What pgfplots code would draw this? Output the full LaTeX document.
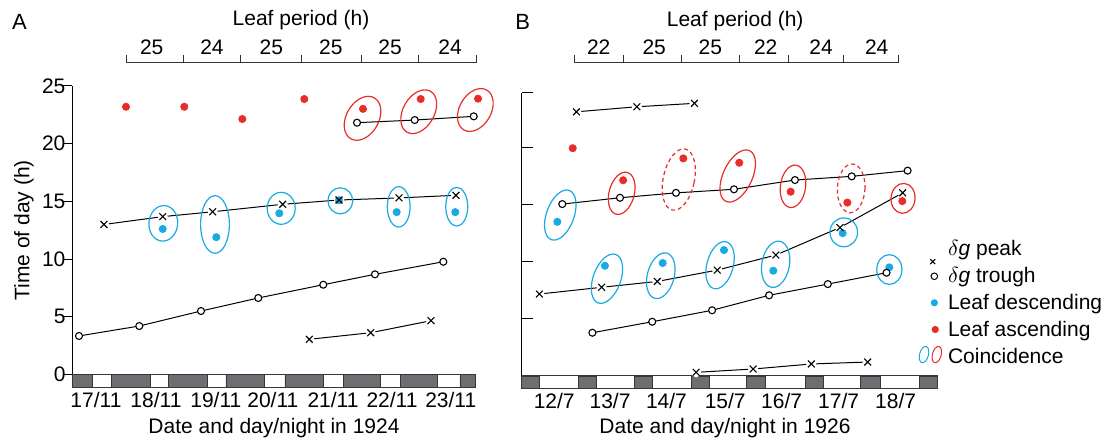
\documentclass[border=0pt]{standalone}
\usepackage{fontspec}
\setmainfont{Liberation Sans}
\usepackage{pgfplots}
\pgfplotsset{compat=1.18}

\definecolor{cblue}{RGB}{25,170,225}
\definecolor{cred}{RGB}{232,45,40}
\definecolor{night}{RGB}{110,110,114}
\definecolor{nightedge}{RGB}{55,55,58}

\pgfdeclareplotmark{ell}{%
  \pgfscope
  \pgftransformrotate{\erot}%
  \pgfpathellipse{\pgfpointorigin}{\pgfqpoint{\erx pt}{0pt}}{\pgfqpoint{0pt}{\ery pt}}%
  \pgfusepathqstroke
  \endpgfscope}

\newcommand{\lgpeak}{\tikz[baseline=3pt]{\path (0,0) (15pt,0);
  \draw[black, line width=0.5pt] (6.1pt,-1.25pt) -- (8.6pt,1.25pt) (6.1pt,1.25pt) -- (8.6pt,-1.25pt);}}
\newcommand{\lgtrough}{\tikz[baseline=3.2pt]{\path (0,0) (15pt,0);
  \draw[black, fill=white, line width=0.5pt] (8.15pt,0) circle (1.65pt);}}
\newcommand{\lgdesc}{\tikz[baseline=3pt]{\path (0,0) (15pt,0);
  \fill[cblue] (8.15pt,0) circle (1.8pt);}}
\newcommand{\lgasc}{\tikz[baseline=2.9pt]{\path (0,0) (15pt,0);
  \fill[cred] (8.6pt,0) circle (1.8pt);}}
\newcommand{\lgcoin}{\tikz[baseline=2pt]{\path (0,0) (15pt,0);
  \draw[cblue, line width=0.5pt, rotate around={-15:(3pt,0)}] (3pt,0) ellipse [x radius=2.2pt, y radius=4.2pt];
  \draw[cred, line width=0.5pt, rotate around={-15:(9.4pt,0)}] (9.4pt,0) ellipse [x radius=2.2pt, y radius=4.2pt];}}

\pgfplotsset{
  ellplot/.style={only marks, scatter, mark=ell, line width=0.6pt, forget plot,
    scatter/@pre marker code/.code={}, scatter/@post marker code/.code={},
    visualization depends on={\thisrow{rx}\as\erx},
    visualization depends on={\thisrow{ry}\as\ery},
    visualization depends on={\thisrow{rot}\as\erot}},
  dline/.style={black, line width=0.5pt, forget plot},
  gapdisc/.style={only marks, mark=*, mark size=2.3pt, white, forget plot},
  dotb/.style={only marks, mark=*, mark size=1.8pt, cblue, forget plot},
  dotr/.style={only marks, mark=*, mark size=1.8pt, cred, forget plot},
  ocirc/.style={only marks, mark=*, mark size=1.75pt, mark options={fill=white, draw=black}, line width=0.55pt, forget plot},
  xmk/.style={only marks, mark=x, mark size=2.4pt, black, line width=0.55pt, forget plot},
  nightfill/.style={fill=night, draw=nightedge, line width=0.4pt, forget plot},
  baredge/.style={nightedge, line width=0.5pt, forget plot},
  mainax/.style={anchor=south west, scale only axis, clip=false, axis lines=left,
    axis line style={-, black, line width=0.5pt}, tick style={black, line width=0.5pt},
    tick align=inside, minor tick length=2.8pt, xtick=\empty},
  topax/.style={anchor=north west, scale only axis, height=5pt, ymin=0, ymax=1, clip=false,
    axis x line=top, axis y line=none, axis line style={-, black!80, line width=0.5pt},
    tick style={black!80, line width=0.5pt}, tick align=outside, major tick length=0pt,
    minor tick length=3.8pt, ytick=\empty, xticklabel style={anchor=base, yshift=3.85pt}},
}

\begin{document}
\begin{tikzpicture}[font=\fontsize{10.5}{12.6}\selectfont]
\useasboundingbox (0,0) rectangle (554pt,219pt);

\node[anchor=base west, inner sep=0pt, font=\fontsize{11}{13}\selectfont] at (5.85pt,204pt) {A};
\node[anchor=base west, inner sep=0pt, font=\fontsize{11}{13}\selectfont] at (257.5pt,204pt) {B};

% ---------------- Panel A ----------------
\begin{axis}[mainax, at={(36.25pt,31.75pt)}, width=201.5pt, height=144.25pt,
  xmin=0, xmax=7, ymin=0, ymax=25,
  major tick length=4.6pt,
  ytick={0,5,10,15,20,25}, yticklabels={0,5,10,15,20,25}, ytick style={xshift=-4.6pt},
  minor xtick={1,2,3,4,5,6},
  extra x ticks={0.408,1.45,2.49,3.48,4.525,5.55,6.57},
  extra x tick labels={17/11,18/11,19/11,20/11,21/11,22/11,23/11},
  extra x tick style={major tick length=0pt, tick style={draw=none}, tick label style={anchor=base, yshift=-16.6pt}},
  xlabel={Date and day/night in 1924},
  xlabel style={at={(axis description cs:0.5,-0.2038)}, anchor=base},
  ylabel={Time of day (h)},
  ylabel style={at={(axis description cs:-0.1067,0.5)}, anchor=base}]
% lines
\addplot[dline] coordinates {(0.547,13.0) (1.567,13.68) (2.435,14.1) (3.651,14.75) (4.629,15.12) (5.671,15.3) (6.661,15.53)};
\addplot[dline] coordinates {(4.113,3.05) (5.18,3.62) (6.227,4.66)};
\addplot[dline] coordinates {(4.942,21.82) (5.944,22.05) (6.969,22.37)};
\addplot[dline] coordinates {(0.113,3.34) (1.16,4.2) (2.232,5.5) (3.227,6.63) (4.356,7.78) (5.254,8.68) (6.441,9.77)};
% gaps around peaks
\addplot[gapdisc] coordinates {(0.547,13.0) (1.567,13.68) (2.435,14.1) (3.651,14.75) (4.629,15.12) (5.671,15.3) (6.661,15.53) (4.113,3.05) (5.18,3.62) (6.227,4.66)};
% day/night bar (night blocks)
\addplot[nightfill] coordinates {(0,0) (0.344,0) (0.344,-1.12) (0,-1.12) (0,0)};
\addplot[nightfill] coordinates {(0.669,0) (1.346,0) (1.346,-1.12) (0.669,-1.12) (0.669,0)};
\addplot[nightfill] coordinates {(1.664,0) (2.348,0) (2.348,-1.12) (1.664,-1.12) (1.664,0)};
\addplot[nightfill] coordinates {(2.666,0) (3.34,0) (3.34,-1.12) (2.666,-1.12) (2.666,0)};
\addplot[nightfill] coordinates {(3.69,0) (4.35,0) (4.35,-1.12) (3.69,-1.12) (3.69,0)};
\addplot[nightfill] coordinates {(4.70,0) (5.34,0) (5.34,-1.12) (4.70,-1.12) (4.70,0)};
\addplot[nightfill] coordinates {(5.69,0) (6.33,0) (6.33,-1.12) (5.69,-1.12) (5.69,0)};
\addplot[nightfill] coordinates {(6.73,0) (7,0) (7,-1.12) (6.73,-1.12) (6.73,0)};
\addplot[baredge] coordinates {(0,0) (7,0) (7,-1.12) (0,-1.12) (0,0)};
% coincidence ellipses
\addplot[ellplot, cblue] table[row sep=\\] {x y rx ry rot\\
1.577 13.1 7.2 8.9 -5\\ 2.475 13.0 7.2 14.4 0\\ 3.625 14.4 7.0 8.0 0\\
4.652 15.05 6.2 6.5 0\\ 5.666 14.53 5.7 10.1 0\\ 6.674 14.54 5.5 9.7 0\\};
\addplot[ellplot, cred] table[row sep=\\] {x y rx ry rot\\
5.038 22.2 8.1 11.8 -30\\ 6.014 22.77 7.8 11.8 -30\\ 6.997 22.92 7.9 11.5 -30\\};
% leaf dots
\addplot[dotb] coordinates {(1.567,12.61) (2.498,11.9) (3.592,13.97) (4.629,15.1) (5.631,14.07) (6.649,14.07)};
\addplot[dotr] coordinates {(0.929,23.2) (1.942,23.2) (2.95,22.14) (4.026,23.87) (5.046,23.02) (6.048,23.87) (7.044,23.9)};
% troughs
\addplot[ocirc] coordinates {(4.942,21.82) (5.944,22.05) (6.969,22.37)};
\addplot[ocirc] coordinates {(0.113,3.34) (1.16,4.2) (2.232,5.5) (3.227,6.63) (4.356,7.78) (5.254,8.68) (6.441,9.77)};
% peaks
\addplot[xmk] coordinates {(0.547,13.0) (1.567,13.68) (2.435,14.1) (3.651,14.75) (4.629,15.12) (5.671,15.3) (6.661,15.53)};
\addplot[xmk] coordinates {(4.113,3.05) (5.18,3.62) (6.227,4.66)};
\end{axis}

\begin{axis}[topax, at={(63.25pt,187.65pt)}, width=174.85pt, xmin=126.5, xmax=476.2,
  xtick={151.7,212,271.3,330.8,390,450}, xticklabels={25,24,25,25,25,24},
  minor xtick={126.7,183,240.7,301.7,361,418.3,476},
  xlabel={Leaf period (h)}, xlabel style={at={(axis description cs:0.499,4.67)}, anchor=base}]
\addplot[draw=none, forget plot] coordinates {(300,0.5)};
\end{axis}

% ---------------- Panel B ----------------
\begin{axis}[mainax, at={(260.85pt,31pt)}, width=207.65pt, height=141.65pt,
  xmin=-0.04, xmax=7.246, ymin=0, ymax=24.75,
  major tick length=5.6pt,
  ytick={5,10,15,20,24.75}, yticklabels={,,,,},
  minor xtick={1,2,3,4,5,6,7},
  extra x ticks={0.53,1.51,2.5,3.53,4.52,5.52,6.52},
  extra x tick labels={12/7,13/7,14/7,15/7,16/7,17/7,18/7},
  extra x tick style={major tick length=0pt, tick style={draw=none}, tick label style={anchor=base, yshift=-16.15pt}},
  xlabel={Date and day/night in 1926},
  xlabel style={at={(axis description cs:0.4895,-0.2023)}, anchor=base},
  legend style={at={(axis description cs:0.9543,0.4776)}, anchor=north west, draw=none, fill=none,
    inner sep=0pt, outer sep=0pt, row sep=3.45pt, column sep=0pt,
    nodes={inner sep=0pt, text height=7.5pt, text depth=2.5pt, anchor=west}},
  legend cell align=left]
% lines
\addplot[dline] coordinates {(0.92,23.08) (1.98,23.52) (2.99,23.82)};
\addplot[dline] coordinates {(0.27,7.16) (1.363,7.75) (2.339,8.26) (3.39,9.25) (4.42,10.57) (5.544,12.97) (6.643,16.0)};
\addplot[dline] coordinates {(3.02,0.32) (4.02,0.61) (5.04,1.05) (6.03,1.22)};
\addplot[dline] coordinates {(0.672,15.02) (1.684,15.57) (2.667,16.0) (3.684,16.31) (4.754,17.12) (5.749,17.44) (6.73,17.94)};
\addplot[dline] coordinates {(1.2,3.78) (2.25,4.74) (3.30,5.74) (4.30,7.05) (5.33,8.03) (6.36,9.02)};
% gaps around peaks
\addplot[gapdisc] coordinates {(0.92,23.08) (1.98,23.52) (2.99,23.82) (0.27,7.16) (1.363,7.75) (2.339,8.26) (3.39,9.25) (4.42,10.57) (5.544,12.97) (6.643,16.0) (3.02,0.32) (4.02,0.61) (5.04,1.05) (6.03,1.22)};
% day/night bar (night blocks)
\addplot[nightfill] coordinates {(-0.04,0) (0.268,0) (0.268,-1.11) (-0.04,-1.11) (-0.04,0)};
\addplot[nightfill] coordinates {(0.953,0) (1.275,0) (1.275,-1.11) (0.953,-1.11) (0.953,0)};
\addplot[nightfill] coordinates {(1.935,0) (2.258,0) (2.258,-1.11) (1.935,-1.11) (1.935,0)};
\addplot[nightfill] coordinates {(2.942,0) (3.26,0) (3.26,-1.11) (2.942,-1.11) (2.942,0)};
\addplot[nightfill] coordinates {(3.91,0) (4.23,0) (4.23,-1.11) (3.91,-1.11) (3.91,0)};
\addplot[nightfill] coordinates {(4.93,0) (5.25,0) (5.25,-1.11) (4.93,-1.11) (4.93,0)};
\addplot[nightfill] coordinates {(5.91,0) (6.25,0) (6.25,-1.11) (5.91,-1.11) (5.91,0)};
\addplot[nightfill] coordinates {(6.93,0) (7.246,0) (7.246,-1.11) (6.93,-1.11) (6.93,0)};
\addplot[baredge] coordinates {(-0.04,0) (7.246,0) (7.246,-1.11) (-0.04,-1.11) (-0.04,0)};
% coincidence ellipses
\addplot[ellplot, cblue] table[row sep=\\] {x y rx ry rot\\
0.637 14.06 6.9 13.1 -20\\ 1.456 8.50 6.9 12.9 -20\\ 2.40 8.76 6.7 11.7 -15\\
3.44 9.68 6.6 12.1 -15\\ 4.415 9.76 6.9 11.7 -10\\ 5.61 12.55 6.9 7.2 0\\ 6.41 9.3 6.3 7.45 0\\};
\addplot[ellplot, cred] table[row sep=\\] {x y rx ry rot\\
1.714 15.96 6.3 10.8 -15\\ 3.75 17.47 7.3 14.0 -25\\ 4.72 16.57 6.3 10.7 -8\\ 6.65 15.52 6.0 7.5 -5\\};
\addplot[ellplot, cred, dash pattern=on 2pt off 1.5pt] table[row sep=\\] {x y rx ry rot\\
2.716 17.16 7.8 15.6 -12\\ 5.74 16.39 6.9 12.2 -3\\};
% leaf dots
\addplot[dotb] coordinates {(0.585,13.47) (1.42,9.63) (2.433,9.87) (3.509,11.0) (4.374,9.2) (5.59,12.48) (6.409,9.49)};
\addplot[dotr] coordinates {(0.855,19.9) (1.74,17.1) (2.795,19.01) (3.777,18.63) (4.678,16.1) (5.673,15.15) (6.637,15.28)};
% troughs
\addplot[ocirc] coordinates {(0.672,15.02) (1.684,15.57) (2.667,16.0) (3.684,16.31) (4.754,17.12) (5.749,17.44) (6.73,17.94)};
\addplot[ocirc] coordinates {(1.2,3.78) (2.25,4.74) (3.30,5.74) (4.30,7.05) (5.33,8.03) (6.36,9.02)};
% peaks
\addplot[xmk] coordinates {(0.92,23.08) (1.98,23.52) (2.99,23.82)};
\addplot[xmk] coordinates {(0.27,7.16) (1.363,7.75) (2.339,8.26) (3.39,9.25) (4.42,10.57) (5.544,12.97) (6.643,16.0)};
\addplot[xmk] coordinates {(3.02,0.32) (4.02,0.61) (5.04,1.05) (6.03,1.22)};
% legend
\addlegendimage{legend image code/.code={}}
\addlegendentry{\lgpeak$\delta${\itshape g} peak}
\addlegendimage{legend image code/.code={}}
\addlegendentry{\lgtrough$\delta${\itshape g} trough}
\addlegendimage{legend image code/.code={}}
\addlegendentry{\lgdesc Leaf descending}
\addlegendimage{legend image code/.code={}}
\addlegendentry{\lgasc Leaf ascending}
\addlegendimage{legend image code/.code={}}
\addlegendentry{\lgcoin Coincidence}
\end{axis}

\begin{axis}[topax, at={(286.9pt,187.65pt)}, width=162.35pt, xmin=573.8, xmax=898.5,
  xtick={598.7,654.2,710.3,765.7,821,876.7}, xticklabels={22,25,25,22,24,24},
  minor xtick={574,623.3,681.7,739.3,788.3,843.3,898.3},
  xlabel={Leaf period (h)}, xlabel style={at={(axis description cs:0.497,4.6)}, anchor=base}]
\addplot[draw=none, forget plot] coordinates {(700,0.5)};
\end{axis}
\end{tikzpicture}
\end{document}
